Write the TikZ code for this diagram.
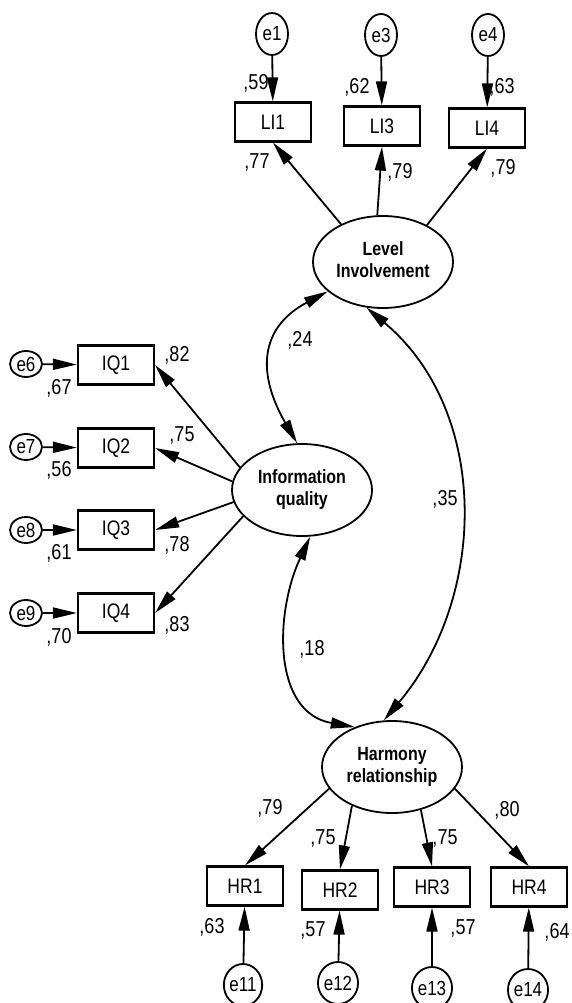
\documentclass[tikz,border=0pt]{standalone}
\usepackage{fontspec}
\setmainfont{Liberation Sans}
\usepackage{graphicx}
\usetikzlibrary{arrows.meta}
\usetikzlibrary{
    shapes.geometric % Ellipses for the latent variables and the errors.
}

% Text in the diagram is a bit taller than wide.
\newcommand{\tallt}[1]{\scalebox{1}[1.2]{#1}}

\begin{document}
\begin{tikzpicture}[%
        x = 1pt, y = 1pt,
        >={Triangle[length=24pt, width=11pt]},
        line width = 1.8pt,
        obs/.style = {draw, rectangle, line width = 2.2pt,
            minimum width = 76pt, minimum height = 39pt, inner sep = 0pt,
            font = \fontsize{17.5}{19}\selectfont},
        lat/.style = {draw, ellipse, minimum width = 140pt,
            minimum height = 92pt, inner sep = 0pt,
            font = \bfseries\fontsize{16}{18.3}\selectfont},
        err/.style = {draw, ellipse, minimum width = 32pt,
            minimum height = 42pt, inner sep = 0pt,
            font = \fontsize{17}{19}\selectfont},
        errl/.style = {err, minimum height = 26pt},
        num/.style = {inner sep = 0pt, font = \fontsize{18}{20}\selectfont}
    ]

        % Fix the size of the page.
        \useasboundingbox (0, 0) rectangle (571, -1003);

        % The three latent variables.
        \node[lat] (Level) at (383, -262)
            {\tallt{\begin{tabular}{@{}c@{}}Level\\Involvement\end{tabular}}};
        \node[lat] (IQ) at (302, -490)
            {\tallt{\begin{tabular}{@{}c@{}}Information\\quality\end{tabular}}};
        \node[lat] (Harmony) at (392, -767)
            {\tallt{\begin{tabular}{@{}c@{}}Harmony\\relationship\end{tabular}}};

        % Indicators of the level of involvement.
        \node[obs] (LI1) at (273, -122) {\tallt{LI1}};
        \node[obs] (LI3) at (382, -126) {\tallt{LI3}};
        \node[obs] (LI4) at (487, -128) {\tallt{LI4}};

        \node[err] (e1) at (272, -34) {\tallt{e1}};
        \node[err] (e3) at (381, -35) {\tallt{e3}};
        \node[err] (e4) at (488, -35) {\tallt{e4}};

        % Indicators of the information quality.
        \node[obs] (IQ1) at (116, -365) {\tallt{IQ1}};
        \node[obs] (IQ2) at (116, -448) {\tallt{IQ2}};
        \node[obs] (IQ3) at (116, -530) {\tallt{IQ3}};
        \node[obs] (IQ4) at (116, -613) {\tallt{IQ4}};

        \node[errl] (e6) at (26, -364) {\tallt{e6}};
        \node[errl] (e7) at (26, -447) {\tallt{e7}};
        \node[errl] (e8) at (26, -530) {\tallt{e8}};
        \node[errl] (e9) at (26, -613) {\tallt{e9}};

        % Indicators of the harmony relationship.
        \node[obs] (HR1) at (245, -886) {\tallt{HR1}};
        \node[obs] (HR2) at (340, -890) {\tallt{HR2}};
        \node[obs] (HR3) at (432, -887) {\tallt{HR3}};
        \node[obs] (HR4) at (529, -887) {\tallt{HR4}};

        \node[err] (e11) at (243, -985) {\tallt{e11}};
        \node[err] (e12) at (338, -983) {\tallt{e12}};
        \node[err] (e13) at (432, -988) {\tallt{e13}};
        \node[err] (e14) at (528, -990) {\tallt{e14}};

        % Error terms onto the indicators.
        \draw[->] (e1) -- (LI1);
        \draw[->] (e3) -- (LI3);
        \draw[->] (e4) -- (LI4);
        \draw[->] (e6) -- (IQ1);
        \draw[->] (e7) -- (IQ2);
        \draw[->] (e8) -- (IQ3);
        \draw[->] (e9) -- (IQ4);
        \draw[->] (e11) -- (HR1);
        \draw[->] (e12) -- (HR2);
        \draw[->] (e13) -- (HR3);
        \draw[->] (e14) -- (HR4);

        % Loadings.
        \draw[->] (Level.138) -- (LI1.south);
        \draw[->] (Level.97) -- (LI3.south);
        \draw[->] (Level.40) -- (LI4.south);
        \draw[->] (IQ.160) -- (IQ1.east);
        \draw[->] (IQ.173) -- (IQ2.east);
        \draw[->] (IQ.190) -- (IQ3.east);
        \draw[->] (IQ.204) -- (IQ4.east);
        \draw[->] (Harmony.199) -- (HR1.north);
        \draw[->] (Harmony.224) -- (HR2.north);
        \draw[->] (Harmony.304) -- (HR3.north);
        \draw[->] (Harmony.341) -- (HR4.north);

        % Correlations between the latent variables.
        \draw[<->] (Level.208) to[out=208, in=120, looseness=1.3] (IQ.96);
        \draw[<->] (IQ.280) to[out=245, in=170, looseness=1.1] (Harmony.133);
        \draw[<->] (Level.250) to[out=-40, in=50] (Harmony.100);

        % Estimates.
        \node[num] (r59) at (256, -83) {\tallt{,59}};
        \node[num] (r62) at (357, -87) {\tallt{,62}};
        \node[num] (r63) at (502, -87) {\tallt{,63}};
        \node[num] (w77) at (257, -162) {\tallt{,77}};
        \node[num] (w79a) at (400, -172) {\tallt{,79}};
        \node[num] (w79b) at (503, -168) {\tallt{,79}};

        \node[num] (w82) at (177, -355) {\tallt{,82}};
        \node[num] (w75a) at (182, -435) {\tallt{,75}};
        \node[num] (w78) at (177, -545) {\tallt{,78}};
        \node[num] (w83) at (177, -625) {\tallt{,83}};
        \node[num] (r67) at (59, -388) {\tallt{,67}};
        \node[num] (r56) at (59, -470) {\tallt{,56}};
        \node[num] (r61) at (59, -553) {\tallt{,61}};
        \node[num] (r70) at (59, -637) {\tallt{,70}};

        \node[num] (c24) at (300, -340) {\tallt{,24}};
        \node[num] (c18) at (312, -649) {\tallt{,18}};
        \node[num] (c35) at (445, -499) {\tallt{,35}};

        \node[num] (w79c) at (270, -808) {\tallt{,79}};
        \node[num] (w75b) at (323, -838) {\tallt{,75}};
        \node[num] (w75c) at (445, -838) {\tallt{,75}};
        \node[num] (w80) at (507, -810) {\tallt{,80}};
        \node[num] (r63b) at (212, -927) {\tallt{,63}};
        \node[num] (r57a) at (313, -930) {\tallt{,57}};
        \node[num] (r57b) at (463, -928) {\tallt{,57}};
        \node[num] (r64) at (557, -932) {\tallt{,64}};
    \end{tikzpicture}
\end{document}
